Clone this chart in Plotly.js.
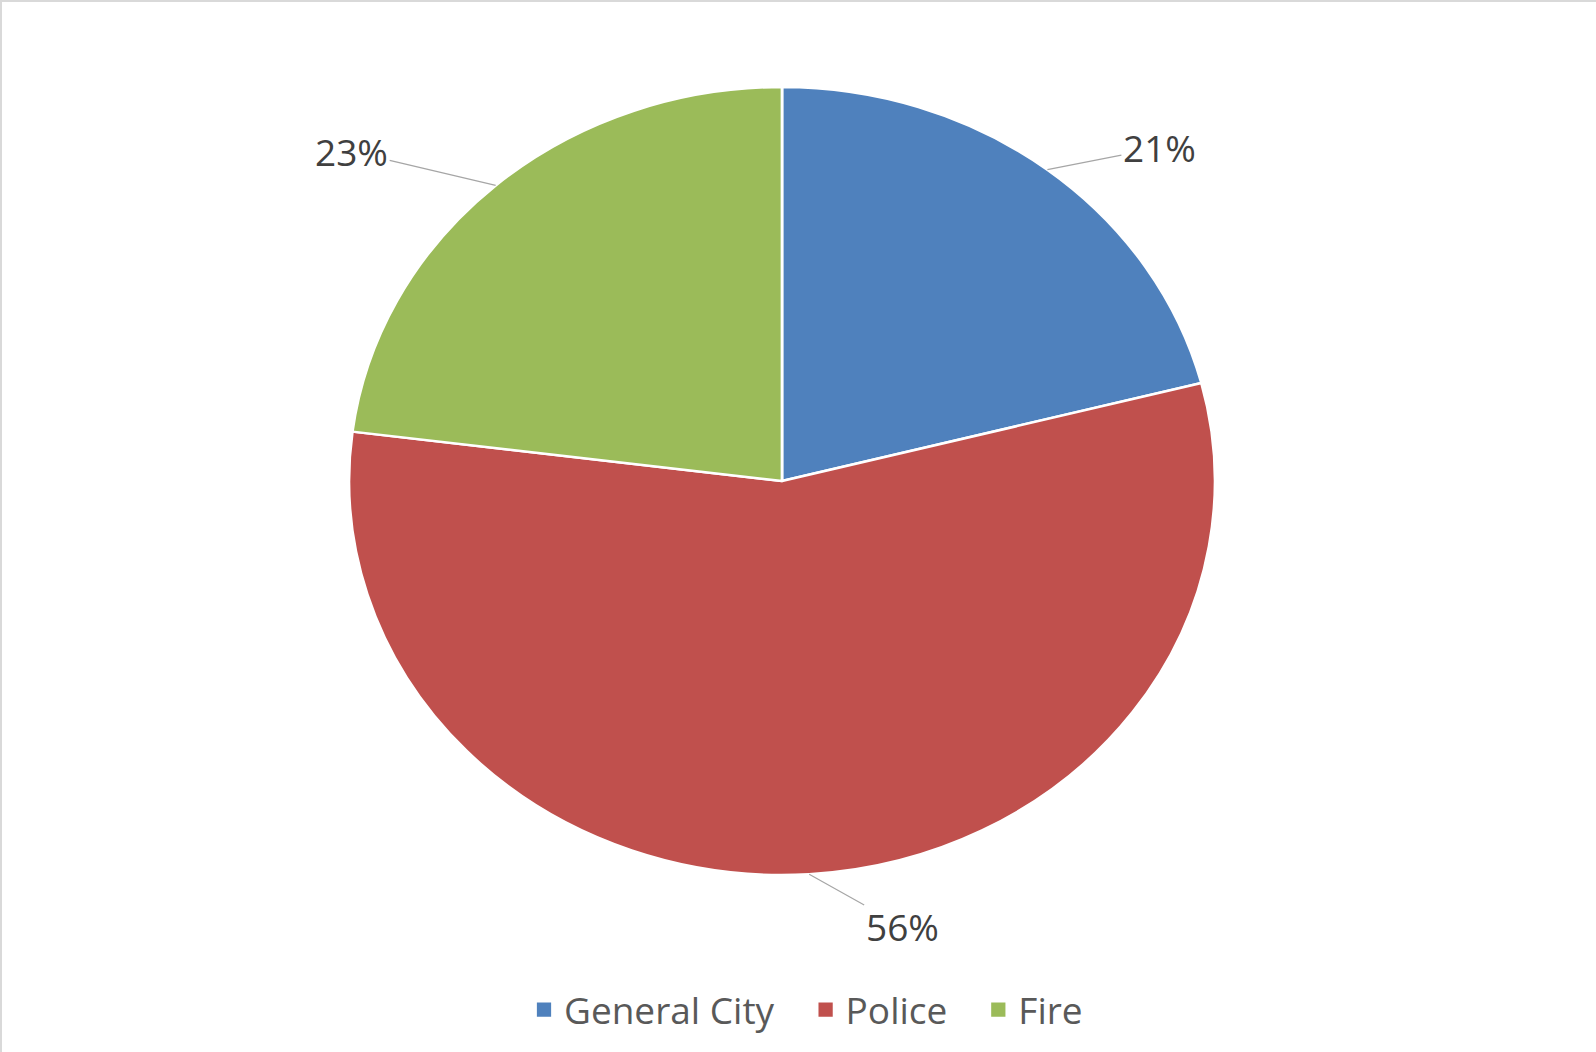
<!DOCTYPE html>
<html>
<head>
<meta charset="utf-8">
<script src="https://cdn.plot.ly/plotly-3.0.1.min.js"></script>
<style>
  html, body { margin: 0; padding: 0; background: #fff; }
  #chart { width: 1596px; height: 1052px; box-sizing: border-box; border-top: 2px solid #d9d9d9; border-left: 2px solid #d9d9d9; }
</style>
</head>
<body>
<div id="chart"></div>
<script>
// Data
const categories = ["General City", "Police", "Fire"];
const shares = [21, 56, 23];
const colors = ["#4F81BD", "#C0504D", "#9BBB59"];

// Layout geometry (pixels)
const W = 1596, H = 1052;
const cx = 780, cy = 479, ry = 394, rx = 433;
const stretch = rx / ry;

// label offsets from slice edge (pixels)
const labelOffsets = [[112, -22], [93, 52], [-144, -34]];

const total = shares.reduce((a, b) => a + b, 0);
let cum = 0;
const annotations = shares.map((v, i) => {
  const mid = (cum + v / 2) / total * 2 * Math.PI;
  cum += v;
  const px = cx + rx * Math.sin(mid);
  const py = cy - ry * Math.cos(mid);
  return {
    x: px / W, y: 1 - py / H, xref: "paper", yref: "paper",
    text: Math.round(v / total * 100) + "%",
    showarrow: true, arrowhead: 0, arrowwidth: 1.2, arrowcolor: "#a6a6a6",
    standoff: 0,
    ax: labelOffsets[i][0], ay: labelOffsets[i][1],
    font: { family: "Open Sans, sans-serif", size: 37, color: "#404040" }
  };
});

const trace = {
  type: "pie",
  labels: categories,
  values: shares,
  sort: false,
  direction: "clockwise",
  rotation: 0,
  textinfo: "none",
  hoverinfo: "label+percent",
  marker: { colors: colors, line: { color: "#ffffff", width: 2.5 } },
  domain: { x: [(cx - ry) / W, (cx + ry) / W], y: [1 - (cy + ry) / H, 1 - (cy - ry) / H] }
};

const layout = {
  width: W, height: H,
  margin: { l: 0, r: 0, t: 0, b: 0 },
  paper_bgcolor: "rgba(0,0,0,0)",
  plot_bgcolor: "rgba(0,0,0,0)",
  showlegend: true,
  legend: {
    orientation: "h", x: 0.5, xanchor: "center", y: 1 - 1008 / H, yanchor: "middle",
    font: { family: "Open Sans, sans-serif", size: 37, color: "#595959" },
    itemclick: false, itemdoubleclick: false, traceorder: "normal"
  },
  annotations: annotations
};

const TR = /translate\(\s*([-\d.e]+)[ ,]+([-\d.e]+)\s*\)/;

Plotly.newPlot("chart", [trace], layout, { displayModeBar: false, staticPlot: true }).then(gd => {
  const pl = gd.querySelector(".pielayer");
  if (pl) {
    pl.setAttribute("transform", `translate(${cx},0) scale(${stretch},1) translate(${-cx},0)`);
  }
  // enlarge legend swatches (keep their original placement)
  gd.querySelectorAll(".legend .legendpoints path").forEach(p => {
    const t = p.getAttribute("transform") || "";
    p.setAttribute("transform", (t + " scale(1.5)").trim());
  });
  // widen spacing between legend entries
  const extra = 26;
  const legend = gd.querySelector("g.legend");
  if (legend) {
    legend.querySelectorAll("[clip-path]").forEach(el => el.removeAttribute("clip-path"));
    const items = Array.from(legend.querySelectorAll("g.traces"));
    items.forEach((g, i) => {
      const m = (g.getAttribute("transform") || "").match(TR);
      if (m) {
        g.setAttribute("transform", `translate(${parseFloat(m[1]) + i * extra},${m[2]})`);
      }
    });
    const lm = (legend.getAttribute("transform") || "").match(TR);
    if (lm) {
      legend.setAttribute("transform", `translate(${parseFloat(lm[1]) - 20},${lm[2]})`);
    }
  }
});
</script>
</body>
</html>
